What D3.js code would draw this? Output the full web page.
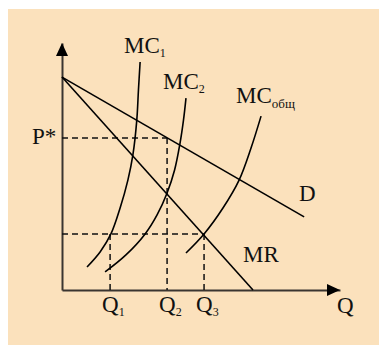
<!DOCTYPE html>
<html>
<head>
<meta charset="utf-8">
<script src="https://cdn.jsdelivr.net/npm/d3@7"></script>
<style>
html,body{margin:0;padding:0;background:#fff;}
svg{display:block;}
text{font-family:"Liberation Serif","Times New Roman",serif;fill:#111;}
</style>
</head>
<body>
<svg id="chart" width="379" height="345"></svg>
<script>
// ---- data (arbitrary units) ----
const demandLine = [[0, 8.62], [8.71, 2.96]];
const mrLine = [[0, 8.62], [6.87, 0]];
const mc1 = [[2.81, 9.23], [2.75, 8.10], [2.69, 6.88], [2.55, 5.47], [2.37, 4.45], [2.09, 3.32], [1.76, 2.27], [1.37, 1.54], [0.90, 0.93]];
const mc2 = [[4.46, 7.77], [4.37, 6.88], [4.24, 5.91], [4.05, 4.86], [3.78, 3.93], [3.42, 3.04], [2.99, 2.27], [2.30, 1.42], [1.55, 0.73]];
const mcTotal = [[7.16, 7.04], [6.80, 5.75], [6.37, 4.45], [5.79, 3.32], [5.11, 2.27], [4.46, 1.50]];
const qValues = [1.73, 3.78, 5.11];
const qSubs = ["1", "2", "3"];
const pStar = 6.15;
const pLow = 2.27;

const svg = d3.select("#chart");
svg.append("rect").attr("x", 8).attr("y", 9).attr("width", 371).attr("height", 336).attr("fill", "#FBE1BC");

const x = d3.scaleLinear().domain([0, 10]).range([62, 340]);
const y = d3.scaleLinear().domain([0, 10]).range([290, 43]);

// axes
const gx = svg.append("g").attr("transform", `translate(0,${y(0)})`)
  .call(d3.axisBottom(x).tickValues([]).tickSizeOuter(0));
const gy = svg.append("g").attr("transform", `translate(${x(0)},0)`)
  .call(d3.axisLeft(y).tickValues([]).tickSizeOuter(0));
svg.selectAll(".domain").attr("stroke", "#3a3530").attr("stroke-width", 2);

// arrow heads
svg.append("path")
  .attr("d", `M${x(0)},${y(10)} L${x(0) - 6},${y(10) + 13} L${x(0) + 6},${y(10) + 13} Z`)
  .attr("fill", "#000");
svg.append("path")
  .attr("d", `M${x(10)},${y(0)} L${x(10) - 13},${y(0) - 6} L${x(10) - 13},${y(0) + 6} Z`)
  .attr("fill", "#000");

// dashed guide lines
const dash = "6,4";
const guides = [
  [[0, pStar], [qValues[1], pStar]],
  [[qValues[1], pStar], [qValues[1], 0]],
  [[0, pLow], [qValues[2], pLow]],
  [[qValues[0], pLow], [qValues[0], 0]],
  [[qValues[2], pLow], [qValues[2], 0]]
];
const straight = d3.line().x(d => x(d[0])).y(d => y(d[1]));
guides.forEach(g => svg.append("path").attr("d", straight(g))
  .attr("stroke", "#111").attr("stroke-width", 1.5).attr("stroke-dasharray", dash).attr("fill", "none"));

// D and MR lines
[demandLine, mrLine].forEach(l => svg.append("path").attr("d", straight(l))
  .attr("stroke", "#000").attr("stroke-width", 1.6).attr("fill", "none"));

// MC curves
const curve = d3.line().x(d => x(d[0])).y(d => y(d[1])).curve(d3.curveCatmullRom.alpha(0.5));
[mc1, mc2, mcTotal].forEach(c => svg.append("path").attr("d", curve(c))
  .attr("stroke", "#000").attr("stroke-width", 1.6).attr("fill", "none"));

// labels
function label(px, py, main, sub, subSize, subDy) {
  const t = svg.append("text").attr("x", px).attr("y", py).attr("font-size", 23);
  t.append("tspan").text(main);
  if (sub) t.append("tspan").attr("font-size", subSize).attr("dy", subDy).text(sub);
}
label(124, 53, "MC", "1", 12, 4);
label(163, 89, "MC", "2", 12, 4);
label(236, 103, "MC", "общ", 13, 5);
label(32, 144, "P*");
label(299, 201, "D");
label(243, 262, "MR");
label(337, 313, "Q");
qValues.forEach((q, i) => label(x(q) - 8, 312, "Q", qSubs[i], 12, 4));
</script>
</body>
</html>
